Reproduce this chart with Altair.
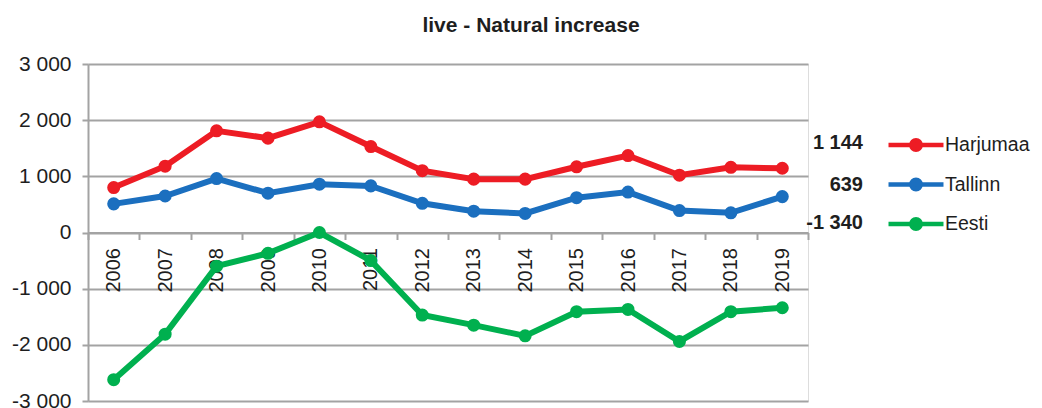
import altair as alt
import pandas as pd

years = [str(y) for y in range(2006, 2020)]
harjumaa = [800, 1180, 1810, 1680, 1970, 1530, 1100, 950, 950, 1170, 1370, 1020, 1160, 1144]
tallinn = [510, 650, 960, 700, 860, 830, 520, 380, 340, 620, 720, 390, 350, 639]
eesti = [-2620, -1810, -600, -370, 0, -500, -1470, -1650, -1840, -1410, -1370, -1940, -1410, -1340]
series = ["Harjumaa", "Tallinn", "Eesti"]
colors = ["#ED1C24", "#1B6FBF", "#00B04F"]
y_ticks = [-3000, -2000, -1000, 0, 1000, 2000, 3000]
title_text = "live - Natural increase"

rows = []
for name, vals in zip(series, [harjumaa, tallinn, eesti]):
    for yr, v in zip(years, vals):
        rows.append({"year": yr, "series": name, "value": v})
df = pd.DataFrame(rows)


def fmt(v):
    return f"{v:,}".replace(",", " ")


last_df = pd.DataFrame({
    "series": series,
    "label": [fmt(s[-1]) for s in [harjumaa, tallinn, eesti]],
})
title_df = pd.DataFrame({"t": [title_text]})

FONT = "Liberation Sans"
GRID = "#A3A3A3"
TEXT = "#1E1E1E"
W, H = 720, 337

x_enc = alt.X(
    "year:O",
    title=None,
    scale=alt.Scale(type="band", paddingInner=0, paddingOuter=0),
    axis=alt.Axis(
        orient="bottom",
        offset=-H / 2,
        labelAngle=-90,
        labelAlign="right",
        labelBaseline="middle",
        labelFont=FONT,
        labelFontSize=20,
        labelColor=TEXT,
        labelPadding=8,
        domainColor=GRID,
        domainWidth=2,
        tickColor=GRID,
        tickWidth=2,
        tickSize=7,
        tickBand="extent",
        grid=False,
    ),
)
y_enc = alt.Y(
    "value:Q",
    title=None,
    scale=alt.Scale(domain=[-3000, 3000], nice=False, zero=False),
    axis=alt.Axis(
        values=y_ticks,
        labelExpr="datum.value == 0 ? '0' : (datum.value < 0 ? '-' : '') + floor(abs(datum.value) / 1000) + ' 000'",
        labelFont=FONT,
        labelFontSize=21,
        labelColor=TEXT,
        labelPadding=11,
        domainColor=GRID,
        domainWidth=2,
        tickColor=GRID,
        tickWidth=2,
        tickSize=6,
        gridColor=GRID,
        gridWidth=2,
    ),
)
color_enc = alt.Color(
    "series:N",
    scale=alt.Scale(domain=series, range=colors),
    sort=series,
    legend=alt.Legend(
        title=None,
        orient="none",
        legendX=812,
        legendY=65,
        symbolType="M-2,0L2,0M-0.34,0a0.34,0.34 0 1,0 0.68,0a0.34,0.34 0 1,0 -0.68,0",
        symbolSize=756,
        symbolStrokeWidth=4.5,
        labelFont=FONT,
        labelFontSize=19.5,
        labelColor=TEXT,
        labelOffset=13,
        rowPadding=9.5,
    ),
)

base = alt.Chart(df)
lines = base.mark_line(strokeWidth=6).encode(x=x_enc, y=y_enc, color=color_enc)
points = base.mark_point(filled=True, size=170, opacity=1).encode(
    x=x_enc, y=y_enc, color=alt.Color("series:N", scale=alt.Scale(domain=series, range=colors), legend=None)
)

label_rows = [79, 121, 159]
texts = []
for name, ly in zip(series, label_rows):
    t = alt.Chart(last_df).transform_filter(alt.datum.series == name).mark_text(
        align="right", baseline="middle", font=FONT, fontSize=20, fontWeight="bold", color=TEXT,
        x=W + 55, y=ly,
    ).encode(text="label:N")
    texts.append(t)

title = alt.Chart(title_df).mark_text(
    align="center", baseline="alphabetic", font=FONT, fontSize=21, fontWeight="bold", color=TEXT,
    x=443, y=-32,
).encode(text="t:N")

chart = alt.layer(lines, points, *texts, title).properties(
    width=W,
    height=H,
    autosize=alt.AutoSizeParams(type="none"),
    padding={"left": 80, "top": 56, "right": 226, "bottom": 7},
).configure_view(stroke=None).configure(background="white")

chart.save("out.html", embed_options={"renderer": "svg", "actions": False})
